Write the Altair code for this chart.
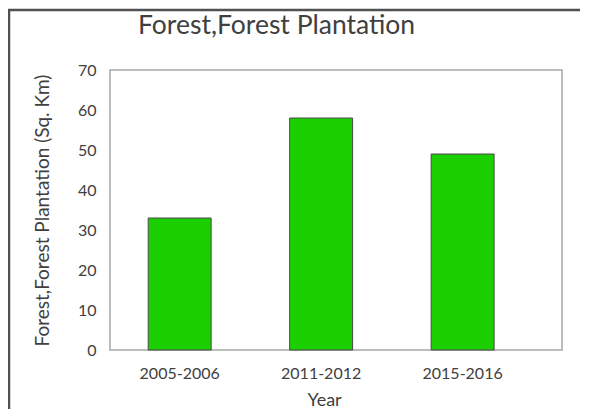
import altair as alt
import pandas as pd

years = ["2005-2006", "2011-2012", "2015-2016"]
areas = [33, 58, 49]
chart_title = "Forest,Forest Plantation"
y_title = "Forest,Forest Plantation (Sq. Km)"
x_title = "Year"

df = pd.DataFrame({"Year": years, "Area": areas})
TXT = "#404040"
FONT = "Lato"

bars = alt.Chart(df).mark_bar(
    color="#1ccf00", stroke="#4a4a4a", strokeWidth=1
).encode(
    x=alt.X("Year:N", sort=years,
            scale=alt.Scale(paddingInner=0.555, paddingOuter=0.375, align=0.36),
            axis=alt.Axis(title=x_title, labelAngle=0, ticks=False, domain=False,
                          labelPadding=15, titlePadding=10, titleX=214,
                          labelFontSize=16, titleFontSize=18,
                          labelFont=FONT, titleFont=FONT, labelColor=TXT,
                          titleColor=TXT, titleFontWeight="normal")),
    y=alt.Y("Area:Q", scale=alt.Scale(domain=[0, 70]),
            axis=alt.Axis(title=y_title, values=list(range(0, 71, 10)), grid=False,
                          ticks=False, domain=False, labelPadding=14, titlePadding=25,
                          labelFontSize=16, titleFontSize=19,
                          labelFont=FONT, titleFont=FONT, labelColor=TXT,
                          titleColor=TXT, titleFontWeight="normal")),
)

frame_left = alt.Chart(pd.DataFrame({"a": [0]})).mark_rule(
    stroke="#505050", strokeWidth=2.5
).encode(
    x=alt.value(-101), y=alt.value(-61), y2=alt.value(340)
)
frame_top = alt.Chart(pd.DataFrame({"a": [0]})).mark_rule(
    stroke="#505050", strokeWidth=2.5
).encode(
    x=alt.value(-102), x2=alt.value(470), y=alt.value(-60)
)

title = alt.Chart(pd.DataFrame({"t": [chart_title]})).mark_text(
    align="left", baseline="alphabetic", font=FONT, fontSize=26.5, color=TXT
).encode(
    x=alt.value(28), y=alt.value(-36), text="t:N"
)

chart = alt.layer(frame_left, frame_top, bars, title).properties(
    width=452, height=280,
    background="white",
    autosize=alt.AutoSizeParams(type="none"),
    padding={"left": 102, "top": 62, "right": 18, "bottom": 59},
).configure_view(
    stroke="#a6a6a6", strokeWidth=1.5
)

chart.save("out.html", embed_options={"renderer": "svg", "actions": False})
